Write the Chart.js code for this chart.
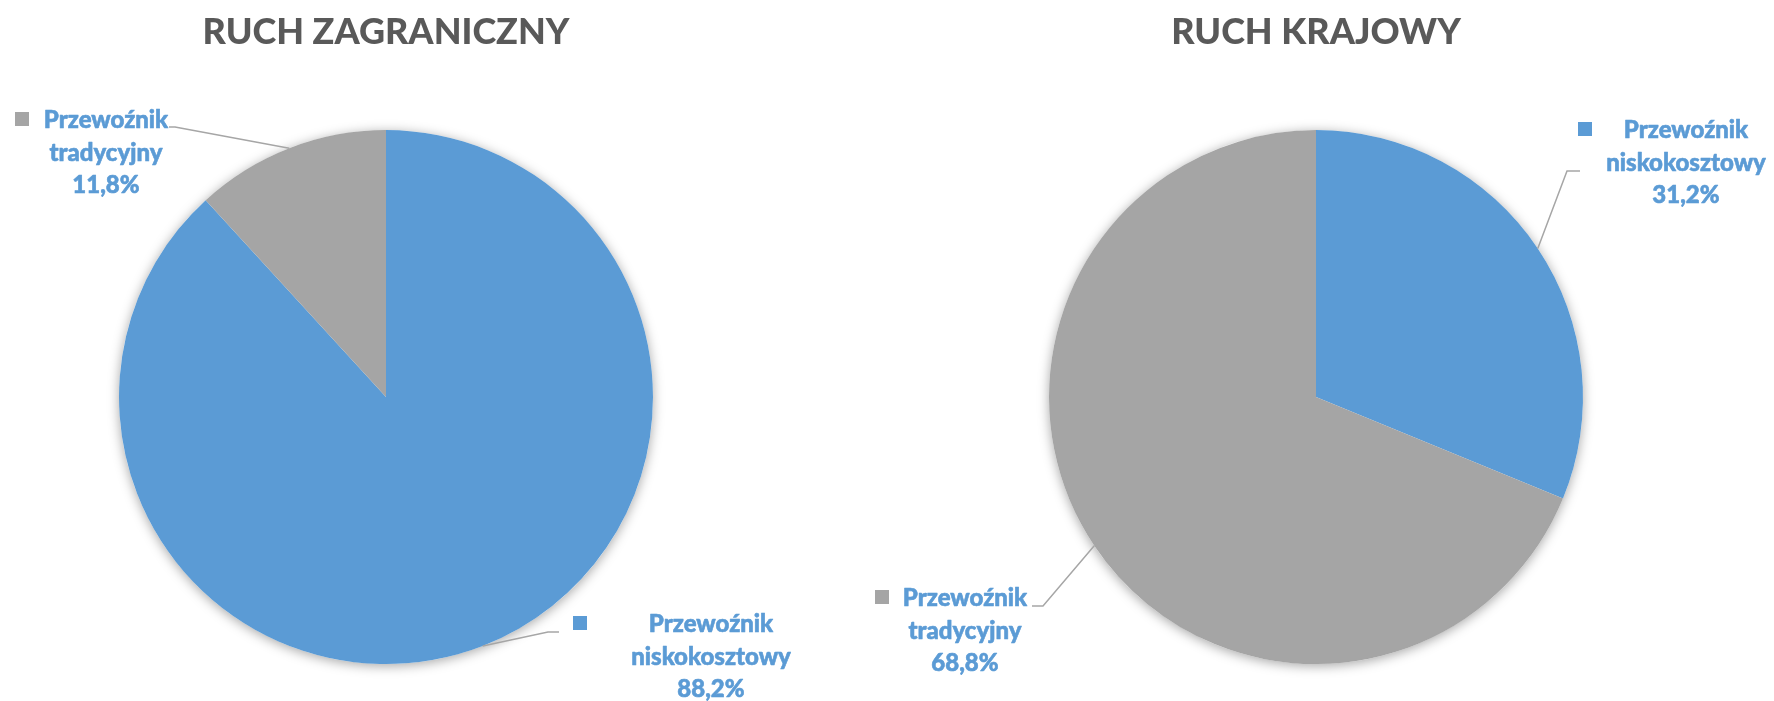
<!DOCTYPE html>
<html>
<head>
<meta charset="utf-8">
<script src="https://cdn.jsdelivr.net/npm/chart.js@4/dist/chart.umd.min.js"></script>
<style>
  html, body { margin: 0; padding: 0; background: #ffffff; }
  #wrap { position: relative; width: 1774px; height: 701px; overflow: hidden; }
  #wrap canvas { position: absolute; left: 0; top: 0; }
</style>
</head>
<body>
<div id="wrap">
  <canvas id="cForeign" width="1774" height="701"></canvas>
  <canvas id="cDomestic" width="1774" height="701"></canvas>
</div>
<script>
// ---- data ----
const categories = ['Przewoźnik niskokosztowy', 'Przewoźnik tradycyjny'];
const foreignValues = [88.2, 11.8];
const domesticValues = [31.2, 68.8];
const chartTitles = ['RUCH ZAGRANICZNY', 'RUCH KRAJOWY'];

// ---- styles / layout ----
const sliceColors = ['#5B9BD5', '#A5A5A5'];
const labelColor = '#5B9BD5';
const leaderColor = '#A6A6A6';
const titleColor = '#595959';

// label placement (page pixels), per category index
const foreignLabelLayout = [
  { cx: 711, baseline: 632, sqX: 573, elbow: [548, 632], end: [559, 632] },
  { cx: 106, baseline: 128, sqX: 15, elbow: [175, 127], end: [169, 127] }
];
const domesticLabelLayout = [
  { cx: 1686, baseline: 138, sqX: 1578, elbow: [1567, 171], end: [1580, 171] },
  { cx: 965, baseline: 606, sqX: 875, elbow: [1043, 606], end: [1032, 606] }
];

function fmtPct(v) { return v.toFixed(1).replace('.', ',') + '%'; }

const excelLabels = {
  id: 'excelLabels',
  beforeDatasetsDraw(chart) {
    const meta = chart.getDatasetMeta(0);
    const a = meta.data[0];
    if (!a) return;
    const ctx = chart.ctx;
    ctx.save();
    ctx.shadowColor = 'rgba(0,0,0,0.35)';
    ctx.shadowBlur = 12;
    ctx.shadowOffsetX = 0;
    ctx.shadowOffsetY = 2;
    ctx.beginPath();
    ctx.arc(a.x, a.y, a.outerRadius, 0, Math.PI * 2);
    ctx.fillStyle = '#ffffff';
    ctx.fill();
    ctx.restore();
  },
  afterDatasetsDraw(chart, args, opts) {
    const ctx = chart.ctx;
    const meta = chart.getDatasetMeta(0);
    const values = chart.data.datasets[0].data;
    const layout = opts.layout;
    meta.data.forEach((arc, i) => {
      const L = layout[i];
      const p = arc.getProps(['x', 'y', 'startAngle', 'endAngle', 'outerRadius'], true);
      const mid = (p.startAngle + p.endAngle) / 2;
      const sx = p.x + Math.cos(mid) * p.outerRadius;
      const sy = p.y + Math.sin(mid) * p.outerRadius;
      // leader line
      ctx.save();
      ctx.strokeStyle = leaderColor;
      ctx.lineWidth = 1.5;
      ctx.beginPath();
      ctx.moveTo(sx, sy);
      ctx.lineTo(L.elbow[0], L.elbow[1]);
      ctx.lineTo(L.end[0], L.end[1]);
      ctx.stroke();
      ctx.restore();
      // text
      const words = chart.data.labels[i].split(' ');
      const lines = [words[0], words.slice(1).join(' '), fmtPct(values[i])];
      ctx.save();
      ctx.font = '900 24px Lato, "Open Sans", sans-serif';
      ctx.fillStyle = labelColor;
      ctx.strokeStyle = labelColor;
      ctx.lineWidth = 0.6;
      ctx.lineJoin = 'round';
      ctx.textAlign = 'center';
      ctx.textBaseline = 'alphabetic';
      lines.forEach((t, k) => {
        ctx.fillText(t, L.cx, L.baseline + k * 32.5);
        ctx.strokeText(t, L.cx, L.baseline + k * 32.5);
      });
      // legend key square
      ctx.fillStyle = sliceColors[i];
      ctx.fillRect(L.sqX, L.baseline - 16, 14, 14);
      ctx.restore();
    });
  }
};

function makeChart(id, values, title, padLeft, padRight, layout) {
  return new Chart(document.getElementById(id), {
    type: 'pie',
    data: {
      labels: categories,
      datasets: [{
        data: values,
        backgroundColor: sliceColors,
        borderWidth: 0,
        hoverOffset: 0,
        offset: 0
      }]
    },
    options: {
      responsive: false,
      animation: false,
      events: [],
      radius: 267,
      layout: { padding: { left: padLeft, right: padRight, top: 0, bottom: 37 } },
      plugins: {
        legend: { display: false },
        tooltip: { enabled: false },
        title: {
          display: true,
          text: title,
          color: titleColor,
          font: { family: 'Lato', size: 36, weight: 900, lineHeight: 1.2 },
          padding: { top: 11, bottom: 76 }
        },
        excelLabels: { layout: layout }
      }
    },
    plugins: [excelLabels]
  });
}

makeChart('cForeign', foreignValues, chartTitles[0], 0, 1002, foreignLabelLayout);
makeChart('cDomestic', domesticValues, chartTitles[1], 858, 0, domesticLabelLayout);
</script>
</body>
</html>
